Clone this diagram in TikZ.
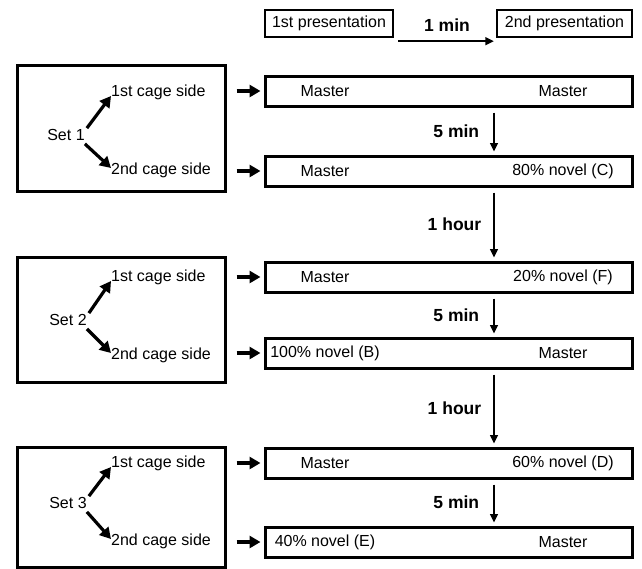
\documentclass[tikz,border=0pt]{standalone}
\usepackage{fontspec}
\setmainfont{Liberation Sans}
\usetikzlibrary{arrows.meta,calc}
\tikzset{
  txt/.style={inner sep=0pt, font=\fontsize{16}{18}\selectfont},
  lbl/.style={inner sep=0pt, font=\fontsize{17.5}{20}\selectfont\bfseries},
  topbox/.style={draw, line width=2.4pt, inner sep=0pt, minimum height=27pt, font=\fontsize{16}{18}\selectfont},
  rowbox/.style={draw, line width=3pt, inner sep=0pt, minimum width=367pt, minimum height=30pt},
  setbox/.style={draw, line width=3pt, inner sep=0pt, minimum width=208pt},
  bigarrow/.style={line width=3.2pt, -{Triangle[length=11pt,width=12pt]}},
  thinarrow/.style={line width=1.6pt, -{Triangle[length=8.5pt,width=8pt]}},
}
\begin{document}
\begin{tikzpicture}[x=1pt,y=-1pt]
\useasboundingbox (0,0) rectangle (642,568);

% top legend
\node[topbox, minimum width=128pt] (p1) at (329,23.5) {1st presentation};
\node[topbox, minimum width=135pt] (p2) at (564.5,23.5) {2nd presentation};
\node[lbl] (m1) at (447,25) {1 min};
\draw[thinarrow] ([shift={(4,3)}]p1.south east) -- ([shift={(-2,3)}]p2.south west);

% set boxes
\node[setbox, minimum height=126pt] (s1) at (121,128) {};
\node[setbox, minimum height=125pt] (s2) at (121,319.5) {};
\node[setbox, minimum height=120pt] (s3) at (121,507) {};

% set labels
\node[txt] (t1) at (66,135) {Set 1};
\node[txt] (t2) at (68,320) {Set 2};
\node[txt] (t3) at (68,503) {Set 3};

% cage side labels
\node[txt, anchor=west] (c1a) at (111,92) {1st cage side};
\node[txt, anchor=west] (c1b) at (111,170) {2nd cage side};
\node[txt, anchor=west] (c2a) at (111,277) {1st cage side};
\node[txt, anchor=west] (c2b) at (111,355) {2nd cage side};
\node[txt, anchor=west] (c3a) at (111,463) {1st cage side};
\node[txt, anchor=west] (c3b) at (111,541) {2nd cage side};

% cage arrows
\foreach \t/\a/\b in {t1/c1a/c1b, t2/c2a/c2b, t3/c3a/c3b}{
  \draw[bigarrow] ([shift={(2,-1)}]\t.north east) -- ([shift={(0,4)}]\a.west);
  \draw[bigarrow] ([shift={(0,3)}]\t.south east) -- ([shift={(0,-2)}]\b.west);
}

% row boxes
\node[rowbox] (r1) at (448.5,91) {};
\node[rowbox] (r2) at (448.5,171) {};
\node[rowbox] (r3) at (448.5,277) {};
\node[rowbox] (r4) at (448.5,353) {};
\node[rowbox] (r5) at (448.5,463) {};
\node[rowbox] (r6) at (448.5,542) {};

% row texts
\node[txt] (r1l) at (325,91) {Master};
\node[txt] (r1r) at (563,91) {Master};
\node[txt] (r2l) at (325,171) {Master};
\node[txt] (r2r) at (563,171) {80\% novel (C)};
\node[txt] (r3l) at (325,277) {Master};
\node[txt] (r3r) at (563,277) {20\% novel (F)};
\node[txt] (r4l) at (325,353) {100\% novel (B)};
\node[txt] (r4r) at (563,353) {Master};
\node[txt] (r5l) at (325,463) {Master};
\node[txt] (r5r) at (563,463) {60\% novel (D)};
\node[txt] (r6l) at (325,542) {40\% novel (E)};
\node[txt] (r6r) at (563,542) {Master};

% horizontal arrows from set boxes to rows
\foreach \s/\r in {s1/r1, s1/r2, s2/r3, s2/r4, s3/r5, s3/r6}{
  \draw[bigarrow] (\s.east |- \r.west) ++(10,0) -- ([xshift=-3pt]\r.west);
}

% timing arrows
\coordinate (ax) at (494,0);
\draw[thinarrow, shorten <=5pt, shorten >=3pt] (r1.south -| ax) -- (r2.north -| ax)
  node[lbl, midway, left=14pt] (l1) {5 min};
\draw[thinarrow, shorten <=5pt, shorten >=3pt] (r2.south -| ax) -- (r3.north -| ax)
  node[lbl, midway, left=12pt] (l2) {1 hour};
\draw[thinarrow, shorten <=5pt, shorten >=3pt] (r3.south -| ax) -- (r4.north -| ax)
  node[lbl, midway, left=14pt] (l3) {5 min};
\draw[thinarrow, shorten <=5pt, shorten >=3pt] (r4.south -| ax) -- (r5.north -| ax)
  node[lbl, midway, left=12pt] (l4) {1 hour};
\draw[thinarrow, shorten <=5pt, shorten >=3pt] (r5.south -| ax) -- (r6.north -| ax)
  node[lbl, midway, left=14pt] (l5) {5 min};
\end{tikzpicture}
\end{document}
